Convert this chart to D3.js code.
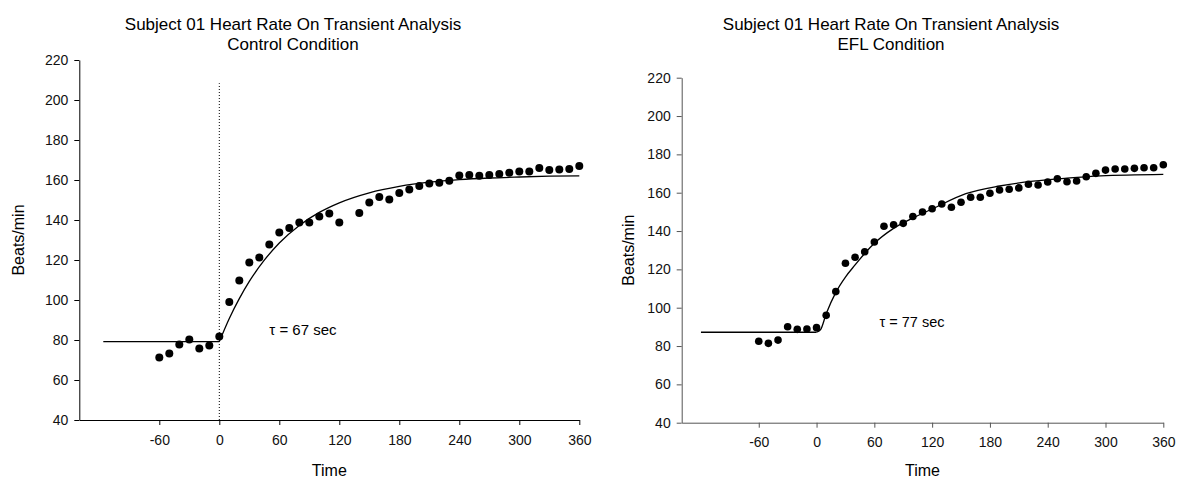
<!DOCTYPE html>
<html>
<head>
<meta charset="utf-8">
<script src="https://cdn.jsdelivr.net/npm/d3@7"></script>
<style>
  body { margin: 0; background: #fff; }
  svg { display: block; font-family: "Liberation Sans", Arial, sans-serif; }
</style>
</head>
<body>
<div id="chart"></div>
<script>
// Heart rate on-transient, subject 01 - two panels (Control / EFL)

const xTicks = [-60, 0, 60, 120, 180, 240, 300, 360];
const yTicks = [40, 60, 80, 100, 120, 140, 160, 180, 200, 220];

// Control condition: measured beats/min every 10 s
const controlTime = [-60, -50, -40, -30, -20, -10, 0, 10, 20, 30, 40, 50, 60, 70, 80, 90, 100, 110, 120,
    140, 150, 160, 170, 180, 190, 200, 210, 220, 230, 240, 250, 260, 270, 280, 290, 300, 310, 320, 330, 340, 350, 360];
const controlHR = [71.2, 73.2, 77.8, 80.3, 75.7, 77.2, 81.7, 99, 109.8, 118.7, 121.3, 127.8, 133.8, 136, 138.7, 138.8, 141.7, 143.3, 138.7,
    143.5, 148.7, 151.5, 150.3, 153.5, 155.2, 157, 158.3, 158.6, 159.6, 162.3, 162.5, 162.1, 162.5, 163, 163.6, 164.2, 164.3, 166, 165, 165.2, 165.5, 167];

// Control fitted curve
const controlBaseT = [-116, 0];
const controlBaseHR = [79.2, 79.2];
const controlFitT = [0, 10, 20, 30, 45, 60, 80, 100, 120, 150, 180, 210, 240, 270, 300, 330, 360];
const controlFitHR = [79.2, 90.8, 100.7, 109.3, 119.9, 128.5, 137.3, 143.8, 148.6, 153.6, 156.8, 158.9, 160.2, 161, 161.5, 161.9, 162.1];

// Exercise onset marker (control panel)
const onsetT = [0, 0];
const onsetHR = [40, 208.4];

// EFL condition
const eflTime = [-60, -50, -40, -30, -20, -10, 0, 10, 20, 30, 40, 50, 60, 70, 80, 90, 100, 110, 120, 130,
    140, 150, 160, 170, 180, 190, 200, 210, 220, 230, 240, 250, 260, 270, 280, 290, 300, 310, 320, 330, 340, 350, 360];
const eflHR = [82.5, 81.4, 83.1, 90.1, 88.7, 88.9, 89.6, 96, 108.4, 123.2, 126.3, 129.2, 134.3, 142.5, 143.3, 144, 147.6, 149.9, 151.6, 154.1,
    152.4, 155, 157.6, 157.6, 159.7, 161.4, 161.8, 162.5, 164.4, 164, 165.6, 167.3, 165.7, 166.1, 168.3, 170.1, 171.8, 172.4, 172.4, 172.7, 173, 173, 174.6];

const eflBaseT = [-120, 0];
const eflBaseHR = [87.2, 87.2];
const eflFitT = [0, 4, 10, 20, 30, 40, 50, 60, 80, 100, 120, 155, 190, 225, 260, 295, 360];
const eflFitHR = [87.2, 88.4, 96.8, 108, 116, 122.3, 128.3, 133.6, 141.4, 146.8, 151.5, 159.5, 163.5, 166, 167.6, 168.8, 169.6];

const panels = [
    {
        title: ["Subject 01 Heart Rate On Transient Analysis", "Control Condition"],
        titleX: 293, titleY: [30, 50],
        xRange: [79.3, 579.3], yRange: [420, 60],
        axisColor: "#000", tickFont: 14, tickPadX: 10, tickPadY: 6,
        yLabelX: 18, r: 4,
        tau: "τ = 67 sec", tauAt: [50, 82.5], tauFont: 15,
        time: controlTime, hr: controlHR,
        baseT: controlBaseT, baseHR: controlBaseHR,
        fitT: controlFitT, fitHR: controlFitHR,
        marker: true
    },
    {
        title: ["Subject 01 Heart Rate On Transient Analysis", "EFL Condition"],
        titleX: 891, titleY: [30, 50],
        xRange: [681.7, 1163.3], yRange: [422.7, 77.7],
        axisColor: "#555", tickFont: 14, tickPadX: 9, tickPadY: 6,
        yLabelX: 628, r: 3.8,
        tau: "τ = 77 sec", tauAt: [65.4, 89.9], tauFont: 14.5,
        time: eflTime, hr: eflHR,
        baseT: eflBaseT, baseHR: eflBaseHR,
        fitT: eflFitT, fitHR: eflFitHR,
        marker: false
    }
];

const width = 1177;
const height = 479;

const svg = d3.select("#chart").append("svg")
    .attr("width", width)
    .attr("height", height);

panels.forEach(p => {
    const g = svg.append("g");

    const x = d3.scaleLinear().domain([-140, 360]).range(p.xRange);
    const y = d3.scaleLinear().domain([40, 220]).range(p.yRange);

    // title
    const title = g.append("text")
        .attr("text-anchor", "middle")
        .style("font-size", "17px")
        .style("fill", "#000");
    p.title.forEach((t, i) => {
        title.append("tspan").attr("x", p.titleX).attr("y", p.titleY[i]).text(t);
    });

    // axes (plain hyphen for negatives, like the original)
    const fmt = d => String(d);
    const xAxis = g.append("g")
        .attr("transform", `translate(0,${p.yRange[0]})`)
        .call(d3.axisBottom(x).tickValues(xTicks).tickFormat(fmt).tickSize(5).tickPadding(p.tickPadX).tickSizeOuter(0));
    const yAxis = g.append("g")
        .attr("transform", `translate(${p.xRange[0]},0)`)
        .call(d3.axisLeft(y).tickValues(yTicks).tickFormat(fmt).tickSize(5).tickPadding(p.tickPadY).tickSizeOuter(0));

    [xAxis, yAxis].forEach(a => {
        a.select(".domain").attr("stroke", p.axisColor);
        a.selectAll(".tick line").attr("stroke", p.axisColor);
        a.selectAll(".tick text")
            .style("font-size", p.tickFont + "px")
            .style("font-family", "'Liberation Sans', Arial, sans-serif")
            .attr("fill", "#111");
    });

    // axis labels
    g.append("text")
        .attr("x", (p.xRange[0] + p.xRange[1]) / 2)
        .attr("y", 476)
        .attr("text-anchor", "middle")
        .style("font-size", "16px")
        .text("Time");

    g.append("text")
        .attr("transform", `translate(${p.yLabelX + 6},${(p.yRange[0] + p.yRange[1]) / 2}) rotate(-90)`)
        .attr("text-anchor", "middle")
        .style("font-size", "16px")
        .text("Beats/min");

    // onset marker
    if (p.marker) {
        g.append("line")
            .attr("x1", x(onsetT[0])).attr("x2", x(onsetT[1]))
            .attr("y1", y(onsetHR[0])).attr("y2", y(onsetHR[1]))
            .attr("stroke", "#000")
            .attr("stroke-width", 1)
            .attr("stroke-dasharray", "1,2");
    }

    // fitted curve
    const line = d3.line()
        .x(d => x(d[0]))
        .y(d => y(d[1]));

    g.append("path")
        .attr("d", line(d3.zip(p.baseT, p.baseHR)))
        .attr("fill", "none")
        .attr("stroke", "#000")
        .attr("stroke-width", 1.3);

    g.append("path")
        .attr("d", line.curve(d3.curveMonotoneX)(d3.zip(p.fitT, p.fitHR)))
        .attr("fill", "none")
        .attr("stroke", "#000")
        .attr("stroke-width", 1.3);

    // data points
    g.selectAll("circle")
        .data(d3.zip(p.time, p.hr))
        .join("circle")
        .attr("cx", d => x(d[0]))
        .attr("cy", d => y(d[1]))
        .attr("r", p.r)
        .attr("fill", "#000");

    // time constant label
    g.append("text")
        .attr("x", x(p.tauAt[0]))
        .attr("y", y(p.tauAt[1]))
        .style("font-size", p.tauFont + "px")
        .text(p.tau);
});
</script>
</body>
</html>
